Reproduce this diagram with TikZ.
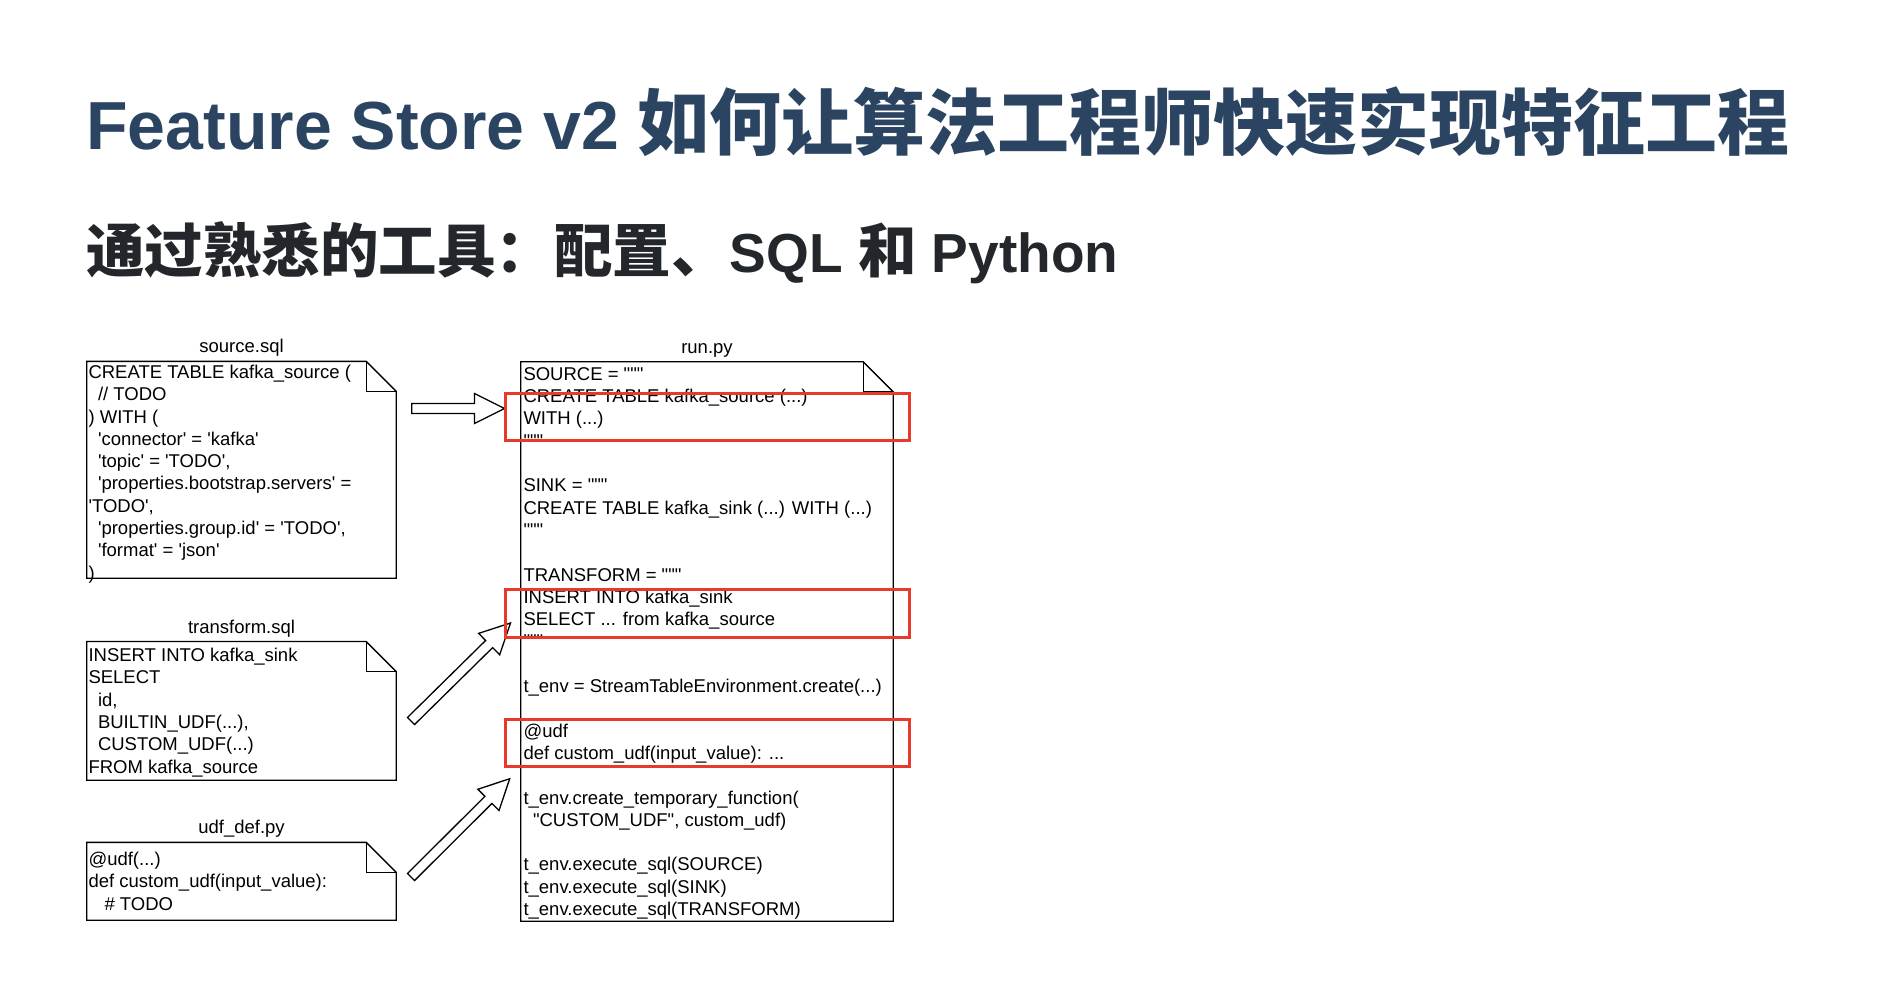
\documentclass[tikz,border=0pt]{standalone}
\usepackage{fontspec}
\usepackage{tikz}
\usetikzlibrary{
	calc,
	positioning
}
\setmainfont{Liberation Sans}
\newfontfamily\codefont{Liberation Sans}[Ligatures=TeXOff]
\newfontfamily\cjk{Noto Sans CJK SC}
\definecolor{TitleBlue}{RGB}{42,68,97}
\definecolor{SubGray}{RGB}{35,39,44}
\definecolor{MarkRed}{RGB}{232,57,45}

% 代码缩进
\newcommand{\ind}{\hspace*{9.5pt}}
% 标题里的西文
\newcommand{\titlelatin}{\normalfont\bfseries\fontsize{68}{80}\selectfont}
\newcommand{\sublatin}{\normalfont\bfseries\fontsize{55}{64}\selectfont}

% 折角文件框
\newcommand{\foldnote}[1]{%
	\draw[fileline] (#1.north west) -- ($(#1.north east)+(-30,0)$) -- ($(#1.north east)+(0,-30)$)
		-- (#1.south east) -- (#1.south west) -- cycle;
	\draw[fileline] ($(#1.north east)+(-30,0)$) |- ($(#1.north east)+(0,-30)$);
}

% 空心箭头
\newcommand{\blockarrow}[2]{%
	\coordinate (hb) at ($(#2)!30pt!(#1)$);
	\draw[hollowarrow] ($(#1)!5pt!-90:(#2)$) -- ($(hb)!5pt!90:(#1)$) -- ($(hb)!15pt!90:(#1)$) -- (#2)
		-- ($(hb)!15pt!-90:(#1)$) -- ($(hb)!5pt!-90:(#1)$) -- ($(#1)!5pt!90:(#2)$) -- cycle;
}

\tikzset{
	filebox/.style={inner sep=0pt},
	fileline/.style={line width=1.3pt, line join=miter},
	codetext/.style={font=\codefont\fontsize{18.5}{22.3}\selectfont, align=left, inner sep=0pt, anchor=west, yshift=-2pt},
	filelabel/.style={font=\codefont\fontsize{18.5}{22.3}\selectfont, anchor=base, inner sep=0pt},
	markbox/.style={draw=MarkRed, line width=3pt, minimum width=404pt, minimum height=47pt, inner sep=0pt},
	hollowarrow/.style={draw=black, fill=white, line width=1.3pt, line join=miter}
}

\begin{document}
\begin{tikzpicture}[x=1pt, y=1pt]
	\fill[white] (0,0) rectangle (1898,-994);
	\useasboundingbox (0,0) rectangle (1898,-994);

	% 标题
	\node[anchor=base west, inner sep=0pt, text=TitleBlue, font=\cjk\bfseries\fontsize{72}{80}\selectfont] (title) at (86,-149)
		{{\titlelatin Feature Store v2 }如何让算法工程师快速实现特征工程};
	\node[anchor=base west, inner sep=0pt, text=SubGray, font=\cjk\bfseries\fontsize{58.5}{64}\selectfont] (subtitle) at (86,-272)
		{通过熟悉的工具：配置、{\sublatin SQL }和{\sublatin{} Python}};

	% 左侧三个文件
	\node[filebox, minimum width=309pt, minimum height=216.5pt] (srcfile) at (241.5,-469.8) {};
	\node[filebox, minimum width=309pt, minimum height=138.3pt] (transfile) at (241.5,-710.9) {};
	\node[filebox, minimum width=309pt, minimum height=77.5pt] (udffile) at (241.5,-881.3) {};
	\foldnote{srcfile}
	\foldnote{transfile}
	\foldnote{udffile}

	\node[above=8.5pt of srcfile, filelabel] (srclabel) {source.sql};
	\node[above=8.5pt of transfile, filelabel] (translabel) {transform.sql};
	\node[above=8.5pt of udffile, filelabel] (udflabel) {udf\_def.py};

	\node[codetext, yshift=-2.5pt] (srccode) at ($(srcfile.west)+(1.5,0)$) {\strut CREATE TABLE kafka\_source (\\
		\ind// TODO\\
		) WITH (\\
		\ind'connector' = 'kafka'\\
		\ind'topic' = 'TODO',\\
		\ind'properties.bootstrap.servers' =\\
		'TODO',\\
		\ind'properties.group.id' = 'TODO',\\
		\ind'format' = 'json'\\
		)\strut};
	\node[codetext] (transcode) at ($(transfile.west)+(1.5,0)$) {\strut INSERT INTO kafka\_sink\\
		SELECT\\
		\ind id,\\
		\ind BUILTIN\_UDF(...),\\
		\ind CUSTOM\_UDF(...)\\
		FROM kafka\_source\strut};
	\node[codetext] (udfcode) at ($(udffile.west)+(1.5,0)$) {\strut @udf(...)\\
		def custom\_udf(input\_value):\\
		\hspace*{16pt}\# TODO\strut};

	% 右侧 run.py
	\node[filebox, minimum width=372pt, minimum height=559pt] (runfile) at (707,-641.5) {};
	\foldnote{runfile}
	\node[above=8.5pt of runfile, filelabel] (runlabel) {run.py};
	\node[codetext] (runcode) at ($(runfile.west)+(2.5,0)$) {\strut SOURCE = """\\
		CREATE TABLE kafka\_source (...)\\
		WITH (...)\\
		"""\\
		\\
		SINK = """\\
		CREATE TABLE kafka\_sink (...) WITH (...)\\
		"""\\
		\\
		TRANSFORM = """\\
		INSERT INTO kafka\_sink\\
		SELECT ... from kafka\_source\\
		"""\\
		\\
		t\_env = StreamTableEnvironment.create(...)\\
		\\
		@udf\\
		def custom\_udf(input\_value): ...\\
		\\
		t\_env.create\_temporary\_function(\\
		\ind"CUSTOM\_UDF", custom\_udf)\\
		\\
		t\_env.execute\_sql(SOURCE)\\
		t\_env.execute\_sql(SINK)\\
		t\_env.execute\_sql(TRANSFORM)\strut};

	% 箭头
	\coordinate (srcout) at (411.7,-408.5);
	\coordinate (srcin) at (504.5,-408.5);
	\coordinate (transout) at (411,-721);
	\coordinate (transin) at (510.5,-623);
	\coordinate (udfout) at (411,-877);
	\coordinate (udfin) at (509.7,-778.7);
	\blockarrow{srcout}{srcin}
	\blockarrow{transout}{transin}
	\blockarrow{udfout}{udfin}

	% 红框
	\node[markbox] (srcmark) at (707,-416.5) {};
	\node[markbox, minimum height=48pt] (transmark) at (707,-613.4) {};
	\node[markbox] (udfmark) at (707,-743.2) {};
\end{tikzpicture}
\end{document}
